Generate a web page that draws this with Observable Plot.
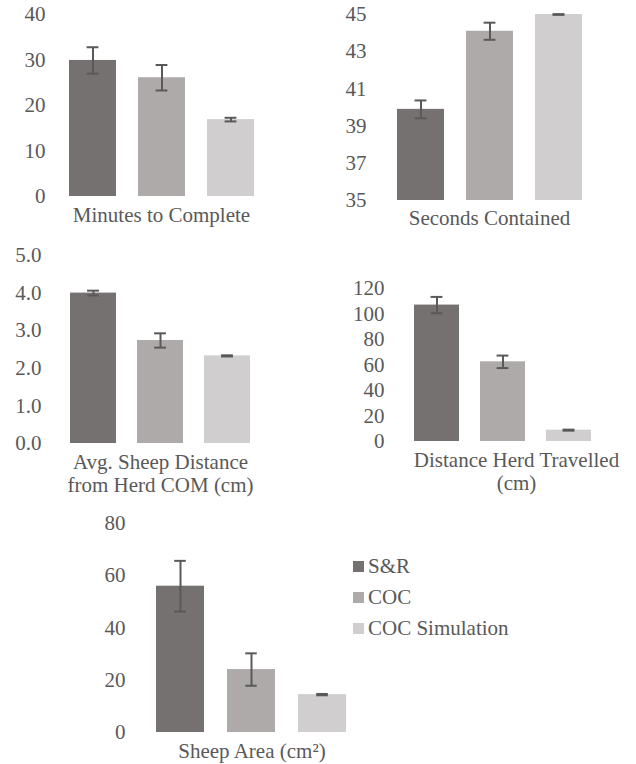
<!DOCTYPE html>
<html><head><meta charset="utf-8">
<script src="https://cdn.jsdelivr.net/npm/d3@7"></script>
<script src="https://cdn.jsdelivr.net/npm/@observablehq/plot@0.6"></script>
<style>
body{margin:0;background:#fff;}
#wrap{position:relative;width:636px;height:764px;font-family:"Liberation Serif","Times New Roman",Times,serif;color:#595959;overflow:hidden;}
.pan{position:absolute;}
#legend{position:absolute;left:353px;top:551px;font-size:21px;}
.row{display:flex;align-items:center;height:31px;white-space:nowrap;}
.sw{width:11px;height:11px;margin-right:4px;}
</style></head><body><div id="wrap"></div>
<script>
const series = ["S&R", "COC", "COC Simulation"];
const colors = ["#767171", "#AEAAAA", "#D0CECE"];

const minutes = [29.9, 26.1, 16.9];
const minutesErr = [2.9, 2.8, 0.4];
const minutesTicks = [0, 10, 20, 30, 40];

const seconds = [39.9, 44.1, 45.0];
const secondsErr = [0.48, 0.46, 0.02];
const secondsTicks = [35, 37, 39, 41, 43, 45];

const avgDist = [4.0, 2.74, 2.33];
const avgDistErr = [0.065, 0.19, 0.015];
const avgDistTicks = [0, 1, 2, 3, 4, 5];

const travelled = [107, 62.5, 8.9];
const travelledErr = [6.4, 4.9, 0.4];
const travelledTicks = [0, 20, 40, 60, 80, 100, 120];

const area = [56.0, 24.1, 14.5];
const areaErr = [9.7, 6.2, 0.25];
const areaTicks = [0, 20, 40, 60, 80];

const FONT = '"Liberation Serif","Times New Roman",Times,serif';
const wrap = document.getElementById("wrap");

function panel({left, top, width, height, mL, mR, mT, mB, values, errs, ticks, domain, base, fmt, title, tdy, tdx, pad}) {
  const data = series.map((s, i) => ({s, v: values[i], e: errs[i]}));
  const pin = 0.32;
  const bw = (width - mL - mR) / (3 - pin) * (1 - pin);
  const inset = (bw - 12) / 2;
  const p = Plot.plot({
    width, height,
    marginLeft: mL, marginRight: mR, marginTop: mT, marginBottom: mB,
    style: {fontFamily: FONT, fontSize: "21px", color: "#595959", background: "transparent", overflow: "visible"},
    x: {domain: series, paddingInner: pin, paddingOuter: 0, axis: null},
    y: {domain, axis: null},
    color: {domain: series, range: colors},
    marks: [
      Plot.axisY({ticks, tickSize: 0, tickPadding: pad, label: null, tickFormat: fmt, fontSize: 21, fontFamily: FONT}),
      Plot.barY(data, {x: "s", y1: base, y2: "v", fill: "s"}),
      Plot.ruleX(data, {x: "s", y1: d => d.v - d.e, y2: d => d.v + d.e, stroke: "#595959", strokeWidth: 2}),
      Plot.tickY(data, {x: "s", y: d => d.v + d.e, insetLeft: inset, insetRight: inset, stroke: "#595959", strokeWidth: 2}),
      Plot.tickY(data, {x: "s", y: d => d.v - d.e, insetLeft: inset, insetRight: inset, stroke: "#595959", strokeWidth: 2}),
      Plot.text([title], {frameAnchor: "bottom", lineAnchor: "middle", dy: tdy, dx: tdx || 0, fill: "#595959", fontSize: 21, fontFamily: FONT, lineHeight: 1.1})
    ]
  });
  const div = document.createElement("div");
  div.className = "pan";
  div.style.left = left + "px";
  div.style.top = top + "px";
  div.appendChild(p);
  wrap.appendChild(div);
}

panel({left: 0, top: 0, width: 318, height: 232, mL: 68, mR: 64, mT: 14, mB: 36,
  values: minutes, errs: minutesErr, ticks: minutesTicks, domain: [0, 40], base: 0, fmt: d3.format("d"),
  title: "Minutes to Complete", tdy: 18, pad: 23});

panel({left: 318, top: 0, width: 318, height: 232, mL: 78, mR: 54, mT: 14, mB: 32,
  values: seconds, errs: secondsErr, ticks: secondsTicks, domain: [35, 45], base: 35, fmt: d3.format("d"),
  title: "Seconds Contained", tdy: 17, pad: 30});

panel({left: 0, top: 240, width: 318, height: 260, mL: 69, mR: 67, mT: 15, mB: 57,
  values: avgDist, errs: avgDistErr, ticks: avgDistTicks, domain: [0, 5], base: 0, fmt: d3.format(".1f"),
  title: "Avg. Sheep Distance\nfrom Herd COM (cm)", tdy: 30, pad: 28});

panel({left: 318, top: 240, width: 318, height: 260, mL: 95, mR: 45, mT: 48, mB: 59,
  values: travelled, errs: travelledErr, ticks: travelledTicks, domain: [0, 120], base: 0, fmt: d3.format("d"),
  title: "Distance Herd Travelled\n(cm)", tdy: 30, tdx: 14, pad: 29});

panel({left: 0, top: 500, width: 380, height: 264, mL: 156, mR: 33, mT: 23, mB: 32,
  values: area, errs: areaErr, ticks: areaTicks, domain: [0, 80], base: 0, fmt: d3.format("d"),
  title: "Sheep Area (cm²)", tdy: 18, pad: 31});

const legend = document.createElement("div");
legend.id = "legend";
series.forEach((s, i) => {
  const row = document.createElement("div");
  row.className = "row";
  const sw = document.createElement("div");
  sw.className = "sw";
  sw.style.background = colors[i];
  const t = document.createElement("span");
  t.textContent = s;
  row.appendChild(sw);
  row.appendChild(t);
  legend.appendChild(row);
});
wrap.appendChild(legend);
</script>
</body></html>
